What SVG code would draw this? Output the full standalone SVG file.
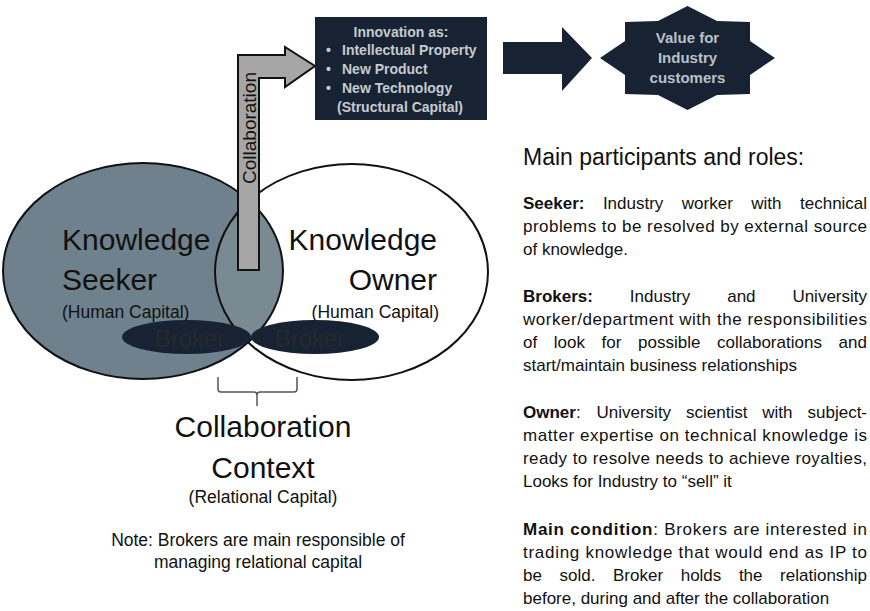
<svg xmlns="http://www.w3.org/2000/svg" width="870" height="611" viewBox="0 0 870 611">
<style>
text{font-family:"Liberation Sans",Arial,sans-serif;fill:#111}
.big{font-size:30px}
.mid{font-size:17.5px}
.body{font-size:17px}
.navy{fill:#172332}
.lite{fill:#c5cad0;font-weight:bold}
.outline{fill:none;stroke:#111;stroke-width:2}
.brk{fill:#25292e;font-size:24px}
</style>
<defs>
<clipPath id="clipSeeker"><ellipse cx="143" cy="271" rx="140" ry="108"/></clipPath>
</defs>
<rect width="870" height="611" fill="#fff"/>

<g id="seeker">
<ellipse cx="143" cy="271" rx="140" ry="108" fill="#6e818c"/>
</g>
<g id="owner">
<ellipse cx="351.5" cy="272" rx="136.5" ry="108" fill="#fff"/>
</g>
<g id="overlap">
<ellipse cx="351.5" cy="272" rx="136.5" ry="108" fill="#7a8a93" clip-path="url(#clipSeeker)"/>
<ellipse class="outline" cx="143" cy="271" rx="140" ry="108"/>
<ellipse class="outline" cx="351.5" cy="272" rx="136.5" ry="108"/>
</g>

<g id="seeker-label">
<text class="big" x="62" y="250">Knowledge</text>
<text class="big" x="62" y="290">Seeker</text>
<text class="mid" x="62" y="318">(Human Capital)</text>
</g>
<g id="owner-label">
<text class="big" x="437" y="250" text-anchor="end">Knowledge</text>
<text class="big" x="437" y="290" text-anchor="end">Owner</text>
<text class="mid" x="439" y="318" text-anchor="end">(Human Capital)</text>
</g>

<g id="broker-left">
<ellipse cx="186.5" cy="337" rx="64.5" ry="17" class="navy"/>
<text class="brk" x="190" y="347" text-anchor="middle">Broker</text>
</g>
<g id="broker-right">
<ellipse cx="315" cy="337" rx="64" ry="17" class="navy"/>
<text class="brk" x="310" y="347" text-anchor="middle">Broker</text>
</g>

<g id="connectors">
<path id="collab-arrow" d="M238,270 L238,55 L285,55 L285,47 L315,66 L285,87 L285,78 L259,78 L259,270 Z" fill="#a6a6a6" stroke="#111" stroke-width="2" stroke-linejoin="miter"/>
<path id="value-arrow" d="M503,42 L562,42 L562,27 L592,58 L562,91 L562,74 L503,74 Z" class="navy"/>
<path id="bracket" d="M218,377 L218,389 Q218,392 221,392 L254,392 Q257,392 257,395 L257,406 M257,395 Q257,392 260,392 L294,392 Q297,392 297,389 L297,377" fill="none" stroke="#555" stroke-width="1.5"/>
</g>
<text x="256" y="128" font-size="19" text-anchor="middle" transform="rotate(-90 256 128)">Collaboration</text>

<g id="innovation">
<rect x="315" y="17" width="172" height="103" class="navy"/>
<text class="lite" font-size="14" x="401" y="37" text-anchor="middle">Innovation as:</text>
<text class="lite" font-size="14" x="326" y="55">•</text>
<text class="lite" font-size="14" x="342" y="55">Intellectual Property</text>
<text class="lite" font-size="14" x="326" y="74">•</text>
<text class="lite" font-size="14" x="342" y="74">New Product</text>
<text class="lite" font-size="14" x="326" y="93">•</text>
<text class="lite" font-size="14" x="342" y="93">New Technology</text>
<text class="lite" font-size="14" x="337" y="112">(Structural Capital)</text>
</g>

<g id="value">
<polygon class="navy" points="687.5,6 717,21 750,22 750,41 775,58 750,75 750,94 717,95 687.5,110 658,95 625,94 625,75 600,58 625,41 625,22 658,21"/>
<text class="lite" font-size="15" x="687.5" y="43" text-anchor="middle" style="fill:#b9c0c7">Value for</text>
<text class="lite" font-size="15" x="687.5" y="63" text-anchor="middle" style="fill:#b9c0c7">Industry</text>
<text class="lite" font-size="15" x="687.5" y="83" text-anchor="middle" style="fill:#b9c0c7">customers</text>
</g>

<g id="context">
<text class="big" x="263" y="437" text-anchor="middle">Collaboration</text>
<text class="big" x="263" y="478" text-anchor="middle">Context</text>
<text class="mid" x="263" y="503" text-anchor="middle">(Relational Capital)</text>
<text class="mid" x="258" y="546" text-anchor="middle">Note: Brokers are main responsible of</text>
<text class="mid" x="258" y="568" text-anchor="middle">managing relational capital</text>
</g>

<g id="roles">
<text x="523" y="165" font-size="23">Main participants and roles:</text>

<text class="body" y="209"><tspan x="523" font-weight="bold">Seeker:</tspan><tspan x="602.9">Industry</tspan><tspan x="681.8">worker</tspan><tspan x="751.3">with</tspan><tspan x="800">technical</tspan></text>
<text class="body" x="523" y="232" textLength="344" lengthAdjust="spacing">problems to be resolved by external source</text>
<text class="body" x="523" y="255">of knowledge.</text>

<text class="body" y="302"><tspan x="523" font-weight="bold">Brokers:</tspan><tspan x="629.8">Industry</tspan><tspan x="727.2">and</tspan><tspan x="792.4">University</tspan></text>
<text class="body" x="523" y="325" textLength="344" lengthAdjust="spacing">worker/department with the responsibilities</text>
<text class="body" y="348"><tspan x="523">of</tspan><tspan x="553.8">look</tspan><tspan x="601.6">for</tspan><tspan x="638">possible</tspan><tspan x="717">collaborations</tspan><tspan x="838.6">and</tspan></text>
<text class="body" x="523" y="371">start/maintain business relationships</text>

<text class="body" y="418"><tspan x="523" font-weight="bold">Owner</tspan><tspan>:</tspan><tspan x="596.5">University</tspan><tspan x="686">scientist</tspan><tspan x="762.3">with</tspan><tspan x="807.5">subject-</tspan></text>
<text class="body" x="523" y="441" textLength="344" lengthAdjust="spacing">matter expertise on technical knowledge is</text>
<text class="body" x="523" y="464" textLength="344" lengthAdjust="spacing">ready to resolve needs to achieve royalties,</text>
<text class="body" x="523" y="487">Looks for Industry to “sell” it</text>

<text class="body" x="523" y="535" textLength="344" lengthAdjust="spacing"><tspan font-weight="bold">Main condition</tspan>: Brokers are interested in</text>
<text class="body" x="523" y="558" textLength="344" lengthAdjust="spacing">trading knowledge that would end as IP to</text>
<text class="body" y="581"><tspan x="523">be</tspan><tspan x="559.5">sold.</tspan><tspan x="613">Broker</tspan><tspan x="680.7">holds</tspan><tspan x="738.9">the</tspan><tspan x="780.1">relationship</tspan></text>
<text class="body" x="523" y="604">before, during and after the collaboration</text>
</g>
</svg>
